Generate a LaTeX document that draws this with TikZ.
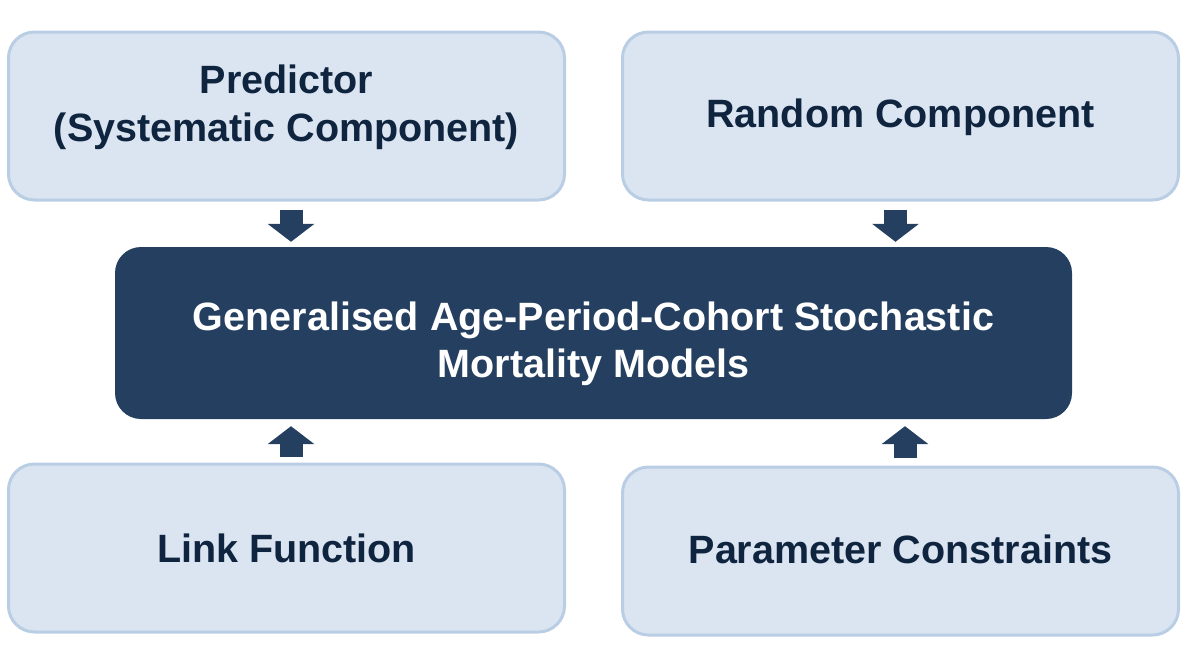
\documentclass[tikz,border=0pt]{standalone}
\usepackage{fontspec}
\setmainfont{Liberation Sans}
\usetikzlibrary{arrows.meta,calc}
\definecolor{lightfill}{HTML}{DBE5F1}
\definecolor{lightborder}{HTML}{B9CDE5}
\definecolor{darkfill}{HTML}{243F60}
\definecolor{darktext}{HTML}{0F243E}
\begin{document}
\begin{tikzpicture}[x=1pt,y=-1pt,
  lightbox/.style={draw=lightborder,line width=3pt,fill=lightfill,rounded corners=26pt,
    minimum width=556pt,minimum height=168pt,inner sep=0pt},
  darkbox/.style={fill=darkfill,rounded corners=26pt,
    minimum width=957pt,minimum height=172pt,inner sep=0pt},
  lighttext/.style={align=center,inner sep=0pt,text=darktext,
    font=\fontsize{39.5}{48}\selectfont\bfseries},
  darktextstyle/.style={align=center,inner sep=0pt,text=white,
    font=\fontsize{39.5}{47}\selectfont\bfseries},
  bigarrow/.style={draw=darkfill,line width=23pt,-{Triangle[length=18pt,width=46pt]}}]
\useasboundingbox (0,0) rectangle (1190,656);
\node[lightbox,label={[lighttext,yshift=9pt]center:Predictor\\(Systematic Component)}] (tl) at (286.5,116) {};
\node[lightbox,label={[lighttext,yshift=-1.5pt]center:Random Component}] (tr) at (900.5,116) {};
\node[lightbox,label={[lighttext,yshift=-0.5pt]center:Link Function}] (bl) at (286.5,548) {};
\node[lightbox,label={[lighttext,yshift=1.5pt]center:Parameter Constraints}] (br) at (900.5,551) {};
\node[darkbox,label={[darktextstyle,yshift=-10.5pt]center:Generalised Age-Period-Cohort Stochastic\\Mortality Models}] (c) at (593.5,333) {};
\draw[bigarrow] ([shift={(4.5,8)}]tl.south) -- ([shift={(4.5,-5)}]tl.south |- c.north);
\draw[bigarrow] ([shift={(-5,8)}]tr.south) -- ([shift={(-5,-5)}]tr.south |- c.north);
\draw[bigarrow] ([shift={(4.5,-6)}]bl.north) -- ([shift={(4.5,7)}]bl.north |- c.south);
\draw[bigarrow] ([shift={(4.5,-8)}]br.north) -- ([shift={(4.5,7)}]br.north |- c.south);
\end{tikzpicture}
\end{document}
